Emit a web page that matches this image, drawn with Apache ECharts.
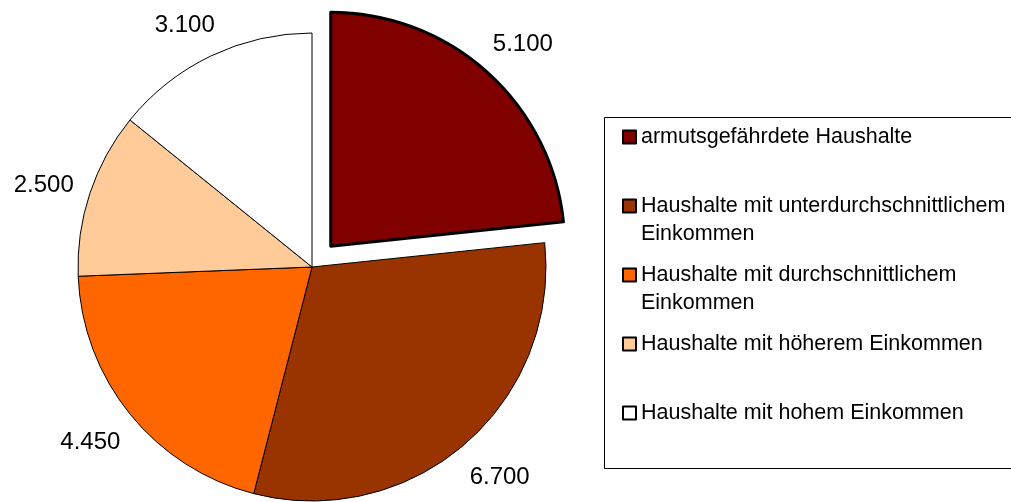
<!DOCTYPE html>
<html>
<head>
<meta charset="utf-8">
<script src="https://cdn.jsdelivr.net/npm/echarts@6/dist/echarts.min.js"></script>
<style>
  html, body { margin: 0; padding: 0; background: #fff; }
  #pie_chart { width: 1011px; height: 502px; }
</style>
</head>
<body>
<div id="pie_chart"></div>
<script>
// Haushalte nach Einkommen
var categories = [
    'armutsgefährdete Haushalte',
    'Haushalte mit unterdurchschnittlichem Einkommen',
    'Haushalte mit durchschnittlichem Einkommen',
    'Haushalte mit höherem Einkommen',
    'Haushalte mit hohem Einkommen'
]
var legend_labels = [
    'armutsgefährdete Haushalte',
    'Haushalte mit unterdurchschnittlichem\nEinkommen',
    'Haushalte mit durchschnittlichem\nEinkommen',
    'Haushalte mit höherem Einkommen',
    'Haushalte mit hohem Einkommen'
]
var values = [5100, 6700, 4450, 2500, 3100]
var colors = ['#800000', '#993300', '#ff6600', '#ffcc99', '#ffffff']

var font = "'Liberation Sans', Arial, sans-serif"

// 1.234 style
function fmt(v) {
    var rest = String(v % 1000)
    while (rest.length < 3) rest = '0' + rest
    return Math.floor(v / 1000) + '.' + rest
}

var pie_data = values.map(function (v, i) {
    var item = {
        name: categories[i],
        value: v,
        itemStyle: { color: colors[i] }
    }
    if (i === 0) {
        item.selected = true
        item.itemStyle.borderWidth = 3
    }
    return item
})

var pie_option = {
    backgroundColor: '#fff',
    animation: false,
    graphic: [
        {
            type: 'rect',
            z: -1,
            shape: { x: 604.5, y: 117.5, width: 430, height: 351 },
            style: { fill: '#fff', stroke: '#000', lineWidth: 1 }
        }
    ],
    legend: {
        orient: 'vertical',
        left: 622,
        top: 95,
        padding: 0,
        itemGap: -15,
        itemWidth: 13,
        itemHeight: 13,
        itemTextGap: 8,
        icon: 'rect',
        selectedMode: false,
        data: categories,
        // every entry gets 3 lines so the marker sits on the first text line
        formatter: function (name) {
            var txt = legend_labels[categories.indexOf(name)]
            return txt.indexOf('\n') >= 0 ? '\n' + txt : '\n' + txt + '\n'
        },
        textStyle: {
            fontFamily: font,
            fontSize: 21.5,
            lineHeight: 28,
            color: '#000'
        }
    },
    series: [
        {
            type: 'pie',
            center: [312, 267],
            radius: 234,
            startAngle: 90,
            clockwise: true,
            selectedMode: 'single',
            selectedOffset: 28,
            avoidLabelOverlap: false,
            silent: true,
            label: {
                show: true,
                position: 'outside',
                distanceToLabelLine: -20,
                offset: [0, 4],
                fontFamily: font,
                fontSize: 24,
                color: '#000',
                formatter: function (p) {
                    return fmt(p.value)
                }
            },
            // line hidden, lengths only place the labels
            labelLine: { show: false, length: 38, length2: 0 },
            emphasis: { disabled: true },
            itemStyle: {
                borderColor: '#000',
                borderWidth: 1
            },
            data: pie_data
        }
    ]
};

var pie_echarts = echarts.init(document.getElementById('pie_chart'), null, {renderer: 'canvas'});
pie_echarts.setOption(pie_option);
</script>
</body>
</html>
